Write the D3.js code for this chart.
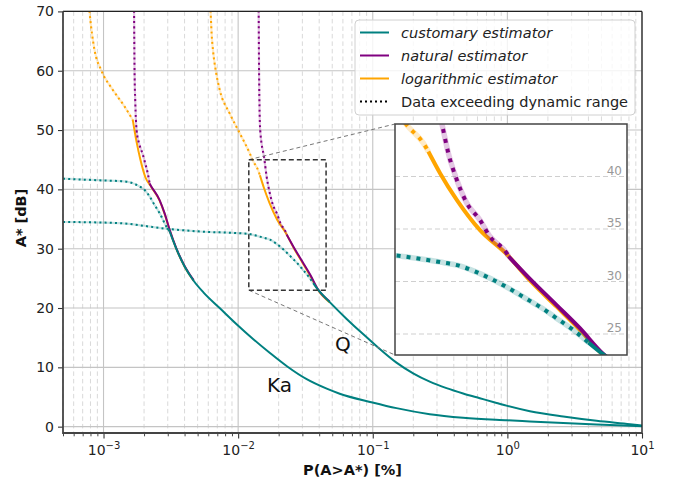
<!DOCTYPE html>
<html><head><meta charset="utf-8">
<script src="https://cdn.jsdelivr.net/npm/d3@7"></script>
<style>
body{margin:0;background:#fff}
svg text{font-family:"DejaVu Sans",sans-serif}
</style>
</head><body>
<svg id="c" width="676" height="483"></svg>
<script>
// ---------------- DATA ----------------
const xTickValues = [1e-3, 1e-2, 1e-1, 1, 10];
const xTickExponents = ["\u22123", "\u22122", "\u22121", "0", "1"];
const yTickValues = [0, 10, 20, 30, 40, 50, 60, 70];
const insetTickValues = [25, 30, 35, 40];
const legendLabels = ["customary estimator", "natural estimator", "logarithmic estimator", "Data exceeding dynamic range"];
const curveLabels = ["Ka", "Q"];

// [P(A>A*) in %, A* in dB]
const kaCustomaryExceed = [[5e-4,41.8],[1e-3,41.5],[1.315e-3,41.4],[1.56e-3,41.2],[1.85e-3,40.5],[2.02e-3,39.9],[2.2e-3,38.8],[2.39e-3,37.4],[2.61e-3,36.0],[2.92e-3,33.8],[3.10e-3,32.9]];
const kaCustomary = [[3.10e-3,32.9],[3.47e-3,30.0],[4.00e-3,27.0],[4.67e-3,24.6],[5.54e-3,22.6],[7.29e-3,20.0],[9.92e-3,17.1],[1.303e-2,14.7],[1.714e-2,12.46],[2.33e-2,10.1],[3.23e-2,8.0],[4.55e-2,6.4],[5.68e-2,5.55],[9.95e-2,4.08],[0.150,3.12],[0.265,2.1],[0.469,1.5],[1.0,1.07],[1.47,0.88],[2.6,0.6],[4.6,0.36],[8.15,0.15],[10,0.08]];
const kaNaturalExceed = [[1.685e-3,71],[1.70e-3,60],[1.72e-3,55],[1.76e-3,50],[1.85e-3,47.5],[1.95e-3,46],[2.05e-3,44.2],[2.14e-3,42.5],[2.2e-3,41.0]];
const kaNatural = [[2.2e-3,41.0],[2.263e-3,40.5],[2.61e-3,38.2],[2.84e-3,36.0],[3.10e-3,33.2],[3.47e-3,30.1],[4.00e-3,27.1],[4.67e-3,24.7]];
const kaLogarithmicExceed = [[7.80e-4,71],[7.87e-4,70],[8.57e-4,63.5],[9.61e-4,60.1],[1.17e-3,56.8],[1.43e-3,54.0],[1.65e-3,51.7]];
const kaLogarithmic = [[1.65e-3,51.7],[1.76e-3,48],[1.88e-3,45],[2.05e-3,42],[2.263e-3,40.4],[2.61e-3,38.1],[2.84e-3,35.9],[3.10e-3,33.1],[3.47e-3,30.0],[4.00e-3,27.0],[4.67e-3,24.6]];

const qCustomaryExceed = [[5e-4,34.5],[1e-3,34.4],[1.315e-3,34.3],[3.1e-3,33.3],[5.18e-3,32.9],[1.18e-2,32.5],[1.38e-2,32.16],[1.55e-2,31.85],[1.72e-2,31.53],[1.89e-2,30.96],[2.08e-2,30.23],[2.29e-2,29.37],[2.52e-2,28.42],[2.77e-2,27.47],[3.01e-2,26.51],[3.31e-2,25.40],[3.61e-2,24.19]];
const qCustomary = [[3.61e-2,24.19],[3.93e-2,23.05],[4.79e-2,21.0],[6.37e-2,18.2],[8.47e-2,15.6],[9.95e-2,14.2],[0.1128,13.1],[0.150,10.8],[0.1995,9.0],[0.265,7.6],[0.353,6.5],[0.469,5.6],[0.624,4.8],[0.832,4.0],[1.0,3.5],[1.47,2.6],[2.6,1.7],[4.6,0.98],[8.15,0.42],[10,0.2]];
const qNaturalExceed = [[1.418e-2,71],[1.420e-2,70],[1.430e-2,60],[1.458e-2,50],[1.566e-2,45.09],[1.626e-2,42.23],[1.706e-2,39.69],[1.806e-2,37.47],[1.945e-2,35.88],[2.061e-2,34.29],[2.267e-2,32.70],[2.291e-2,32.4]];
const qNatural = [[2.291e-2,32.4],[2.588e-2,30.25],[3.013e-2,27.75],[3.441e-2,25.55],[3.93e-2,23.1],[4.79e-2,21.1]];
const qLogarithmicExceed = [[6.20e-3,71],[6.24e-3,70],[6.35e-3,66.3],[6.50e-3,63.5],[6.81e-3,60.1],[7.29e-3,56.8],[8.65e-3,52.8],[1.026e-2,49.5],[1.218e-2,46.1],[1.282e-2,44.92],[1.410e-2,43.18],[1.451e-2,42.38]];
const qLogarithmic = [[1.451e-2,42.38],[1.551e-2,40.32],[1.706e-2,37.78],[1.945e-2,34.92],[2.267e-2,32.6],[2.588e-2,30.1],[3.013e-2,27.6],[3.441e-2,25.4],[3.93e-2,23.0],[4.79e-2,20.95]];

const zoomX = [0.012, 0.045];
const zoomY = [23, 45];

// ---------------- STYLE ----------------
const C = {cust:"#008080", nat:"#800080", log:"#ffa500"};
const M = {left:63, right:642, top:11.4, bottom:433};
const IN = {left:395, right:627, top:124, bottom:355};

const svg = d3.select("#c");
const x = d3.scaleLog().domain([5e-4, 10]).range([M.left, M.right]);
const y = d3.scaleLinear().domain([-1.07, 70]).range([M.bottom, M.top]);
const ix = d3.scaleLog().domain(zoomX).range([IN.left, IN.right]);
const iy = d3.scaleLinear().domain(zoomY).range([IN.bottom, IN.top]);

const defs = svg.append("defs");
defs.append("clipPath").attr("id","mclip").append("rect")
  .attr("x",M.left).attr("y",M.top).attr("width",M.right-M.left).attr("height",M.bottom-M.top);
defs.append("clipPath").attr("id","iclip").append("rect")
  .attr("x",IN.left).attr("y",IN.top).attr("width",IN.right-IN.left).attr("height",IN.bottom-IN.top);

// grid
const allX = x.ticks();
const minorX = allX.filter(v => Math.abs(Math.log10(v) - Math.round(Math.log10(v))) > 1e-6);
const grid = svg.append("g");
grid.selectAll(".mx").data(minorX).join("line")
  .attr("x1",d=>x(d)).attr("x2",d=>x(d)).attr("y1",M.top).attr("y2",M.bottom)
  .attr("stroke","#d9d9d9").attr("stroke-width",1).attr("stroke-dasharray","4.5,3");
grid.selectAll(".Mx").data(xTickValues).join("line")
  .attr("x1",d=>x(d)).attr("x2",d=>x(d)).attr("y1",M.top).attr("y2",M.bottom)
  .attr("stroke","#c4c4c4").attr("stroke-width",1.1);
grid.selectAll(".My").data(yTickValues).join("line")
  .attr("x1",M.left).attr("x2",M.right).attr("y1",d=>y(d)).attr("y2",d=>y(d))
  .attr("stroke","#c4c4c4").attr("stroke-width",1.1);

// curves
function drawSet(g, xs, ys, sets, lw, dash, bandW) {
  const line = d3.line().x(d=>xs(d[0])).y(d=>ys(d[1])).curve(d3.curveMonotoneX);
  sets.forEach(s => {
    if (s.exceed) {
      g.append("path").attr("d",line(s.exceed)).attr("fill","none").attr("stroke",s.color)
        .attr("stroke-width",bandW).attr("stroke-opacity",0.22);
      g.append("path").attr("d",line(s.exceed)).attr("fill","none").attr("stroke",s.color)
        .attr("stroke-width",lw).attr("stroke-dasharray",dash);
    }
    g.append("path").attr("d",line(s.solid)).attr("fill","none").attr("stroke",s.color)
      .attr("stroke-width",lw).attr("stroke-linejoin","round");
  });
}
const sets = [
  {color:C.log, exceed:kaLogarithmicExceed, solid:kaLogarithmic},
  {color:C.log, exceed:qLogarithmicExceed, solid:qLogarithmic},
  {color:C.nat, exceed:kaNaturalExceed, solid:kaNatural},
  {color:C.nat, exceed:qNaturalExceed, solid:qNatural},
  {color:C.cust, exceed:kaCustomaryExceed, solid:kaCustomary},
  {color:C.cust, exceed:qCustomaryExceed, solid:qCustomary}
];
const gMain = svg.append("g").attr("clip-path","url(#mclip)");
drawSet(gMain, x, y, sets, 2, "2,3.2", 2.2);

// curve labels
svg.append("text").attr("x",267).attr("y",392).attr("font-size",20).attr("fill","#111").text(curveLabels[0]);
svg.append("text").attr("x",335).attr("y",351).attr("font-size",20).attr("fill","#111").text(curveLabels[1]);

// zoom rectangle and connectors
const rx0 = x(zoomX[0]), rx1 = x(zoomX[1]), ry0 = y(zoomY[1]), ry1 = y(zoomY[0]);
svg.append("line").attr("x1",rx0).attr("y1",ry0).attr("x2",IN.left).attr("y2",IN.top)
  .attr("stroke","#777").attr("stroke-width",1).attr("stroke-dasharray","4,3");
svg.append("line").attr("x1",rx0).attr("y1",ry1).attr("x2",IN.left).attr("y2",IN.bottom)
  .attr("stroke","#777").attr("stroke-width",1).attr("stroke-dasharray","4,3");
svg.append("rect").attr("x",rx0).attr("y",ry0).attr("width",rx1-rx0).attr("height",ry1-ry0)
  .attr("fill","none").attr("stroke","#333").attr("stroke-width",1.5).attr("stroke-dasharray","5,3");

// axes
const xAxis = svg.append("g").attr("transform",`translate(0,${M.bottom})`)
  .call(d3.axisBottom(x).tickValues(xTickValues).tickSize(5.5).tickFormat(""));
xAxis.select(".domain").remove();
xAxis.selectAll("line").attr("stroke","#333").attr("stroke-width",1.1);
xAxis.selectAll(".tick").each(function(d,i){
  const t = d3.select(this).append("text").attr("y",22).attr("fill","#222")
    .attr("font-size",14).attr("text-anchor","middle");
  t.append("tspan").text("10");
  t.append("tspan").attr("dy",-6.5).attr("font-size",10).text(xTickExponents[i]);
});
const xMinor = svg.append("g").attr("transform",`translate(0,${M.bottom})`)
  .call(d3.axisBottom(x).tickValues(minorX).tickSize(3.3).tickFormat(""));
xMinor.select(".domain").remove();
xMinor.selectAll("line").attr("stroke","#333").attr("stroke-width",0.9);

const yAxis = svg.append("g").attr("transform",`translate(${M.left},0)`)
  .call(d3.axisLeft(y).tickValues(yTickValues).tickSize(5).tickPadding(4));
yAxis.select(".domain").remove();
yAxis.selectAll("line").attr("stroke","#333").attr("stroke-width",1.1);
yAxis.selectAll("text").attr("font-size",14).attr("fill","#222").attr("font-family","DejaVu Sans");

// spines
svg.append("line").attr("x1",M.left).attr("x2",M.right).attr("y1",M.top).attr("y2",M.top).attr("stroke","#222").attr("stroke-width",1.3);
svg.append("line").attr("x1",M.right).attr("x2",M.right).attr("y1",M.top).attr("y2",M.bottom).attr("stroke","#222").attr("stroke-width",1.3);
svg.append("line").attr("x1",M.left).attr("x2",M.left).attr("y1",M.top).attr("y2",M.bottom+0.9).attr("stroke","#444").attr("stroke-width",1.8);
svg.append("line").attr("x1",M.left).attr("x2",M.right).attr("y1",M.bottom).attr("y2",M.bottom).attr("stroke","#444").attr("stroke-width",1.8);

// axis labels
svg.append("text").attr("x",(M.left+M.right)/2).attr("y",475).attr("text-anchor","middle")
  .attr("font-size",14.5).attr("font-weight","bold").attr("fill","#111").text("P(A>A*) [%]");
svg.append("text").attr("transform","translate(26,218) rotate(-90)").attr("text-anchor","middle")
  .attr("font-size",14.5).attr("font-weight","bold").attr("fill","#111").text("A* [dB]");

// inset
const gIn = svg.append("g");
gIn.append("rect").attr("x",IN.left).attr("y",IN.top).attr("width",IN.right-IN.left).attr("height",IN.bottom-IN.top).attr("fill","#fff");
gIn.selectAll(".ig").data(insetTickValues).join("line")
  .attr("x1",IN.left).attr("x2",IN.right).attr("y1",d=>iy(d)).attr("y2",d=>iy(d))
  .attr("stroke","#cfcfcf").attr("stroke-width",1.1).attr("stroke-dasharray","5,3");
gIn.selectAll(".it").data(insetTickValues).join("text")
  .attr("x",IN.right-5).attr("y",d=>iy(d)-2).attr("text-anchor","end")
  .attr("font-size",12).attr("fill","#999").text(d=>d);
const gInC = gIn.append("g").attr("clip-path","url(#iclip)");
drawSet(gInC, ix, iy, sets, 4, "4,6", 5.5);
gIn.append("rect").attr("x",IN.left).attr("y",IN.top).attr("width",IN.right-IN.left).attr("height",IN.bottom-IN.top)
  .attr("fill","none").attr("stroke","#444").attr("stroke-width",1.5);

// legend
const lg = svg.append("g");
lg.append("rect").attr("x",355).attr("y",20).attr("width",280).attr("height",95).attr("rx",4)
  .attr("fill","#fff").attr("fill-opacity",0.8).attr("stroke","#d0d0d0").attr("stroke-width",1);
const legendColors = [C.cust, C.nat, C.log, "#000"];
legendLabels.forEach((lab,i)=>{
  const yy = 32.5 + i*23;
  lg.append("line").attr("x1",360).attr("x2",389).attr("y1",yy).attr("y2",yy)
    .attr("stroke",legendColors[i]).attr("stroke-width",2)
    .attr("stroke-dasharray", i===3 ? "2,3" : null);
  lg.append("text").attr("x",401).attr("y",yy+5).attr("font-size",14.5).attr("fill","#222")
    .attr("font-style", i<3 ? "italic" : "normal").text(lab);
});
</script>
</body></html>
